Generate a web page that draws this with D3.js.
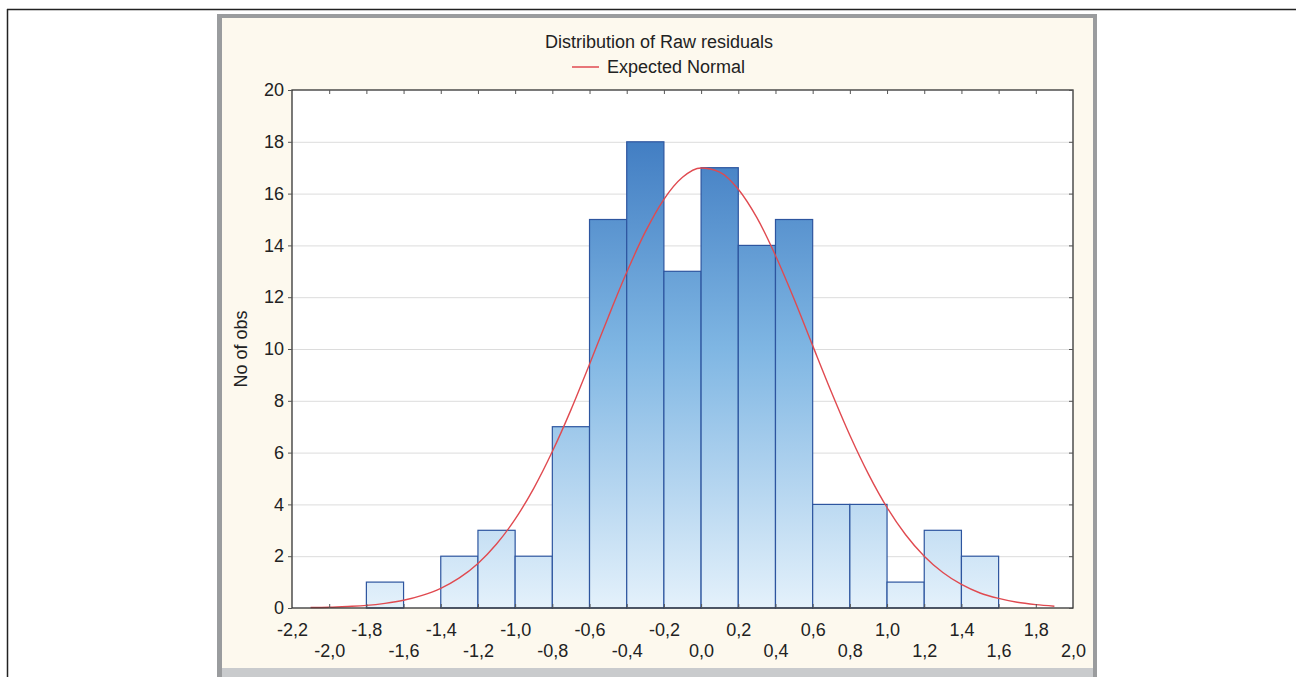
<!DOCTYPE html>
<html><head><meta charset="utf-8">
<script src="https://cdn.jsdelivr.net/npm/d3@7"></script>
<style>body{margin:0;background:#fff;}svg{display:block;font-family:"Liberation Sans",Arial,sans-serif;}</style>
</head><body>
<svg id="c" width="1296" height="677"></svg>
<script>
const binStarts = [-1.8,-1.6,-1.4,-1.2,-1.0,-0.8,-0.6,-0.4,-0.2,0.0,0.2,0.4,0.6,0.8,1.0,1.2,1.4];
const counts    = [1,0,2,3,2,7,15,18,13,17,14,15,4,4,1,3,2];
const binWidth = 0.2;
const curveX = [-2.1,-2.0,-1.9,-1.8,-1.7,-1.6,-1.5,-1.4,-1.3,-1.2,-1.1,-1.0,-0.9,-0.8,-0.7,-0.6,-0.5,-0.4,-0.3,-0.2,-0.1,0.0,0.1,0.2,0.3,0.4,0.5,0.6,0.7,0.8,0.9,1.0,1.1,1.2,1.3,1.4,1.5,1.6,1.7,1.8,1.9];
const curveY = [0.02,0.03,0.06,0.10,0.18,0.30,0.49,0.76,1.16,1.72,2.47,3.43,4.62,6.04,7.65,9.41,11.22,12.96,14.52,15.78,16.63,16.99,16.83,16.17,15.07,13.61,11.93,10.13,8.35,6.67,5.17,3.88,2.83,2.00,1.37,0.91,0.58,0.37,0.22,0.13,0.07];
const xTicks = [-2.2,-2.0,-1.8,-1.6,-1.4,-1.2,-1.0,-0.8,-0.6,-0.4,-0.2,0.0,0.2,0.4,0.6,0.8,1.0,1.2,1.4,1.6,1.8,2.0];
const yTicks = [0,2,4,6,8,10,12,14,16,18,20];

const svg = d3.select("#c");
// outer frame
svg.append("line").attr("x1",7).attr("x2",1296).attr("y1",9.5).attr("y2",9.5).attr("stroke","#222").attr("stroke-width",1.5);
svg.append("line").attr("x1",7.5).attr("x2",7.5).attr("y1",9).attr("y2",677).attr("stroke","#222").attr("stroke-width",1.5);
// panel
svg.append("rect").attr("x",217).attr("y",14).attr("width",880).attr("height",670).attr("fill","#9a9c9e");
svg.append("rect").attr("x",222).attr("y",18).attr("width",871).attr("height",650).attr("fill","#fdf9ee");
svg.append("rect").attr("x",222).attr("y",668).attr("width",871).attr("height",9).attr("fill","#c9cbcd");

const L=292,R=1073,T=90,B=608;
const x = d3.scaleLinear().domain([-2.2,2.0]).range([L,R]);
const y = d3.scaleLinear().domain([0,20]).range([B,T]);

const defs = svg.append("defs");
const g = defs.append("linearGradient").attr("id","bg").attr("gradientUnits","userSpaceOnUse")
  .attr("x1",0).attr("x2",0).attr("y1",y(0)).attr("y2",y(20));
g.append("stop").attr("offset","0").attr("stop-color","#e4f1fb");
g.append("stop").attr("offset","0.5").attr("stop-color","#7fb6e3");
g.append("stop").attr("offset","1").attr("stop-color","#3370bb");

svg.append("rect").attr("x",L).attr("y",T).attr("width",R-L).attr("height",B-T).attr("fill","#fff");
// grid
svg.append("g").selectAll("line").data(yTicks.filter(d=>d>0&&d<20)).join("line")
  .attr("x1",L).attr("x2",R).attr("y1",d=>y(d)+0.5).attr("y2",d=>y(d)+0.5).attr("stroke","#dcdcdc");

// bars
svg.append("g").selectAll("rect").data(binStarts.map((s,i)=>({s,c:counts[i]})).filter(d=>d.c>0)).join("rect")
  .attr("x",d=>x(d.s)).attr("width",d=>x(d.s+binWidth)-x(d.s))
  .attr("y",d=>y(d.c)).attr("height",d=>y(0)-y(d.c))
  .attr("fill","url(#bg)").attr("stroke","#2d559f").attr("stroke-width",1.2);

// curve
const line = d3.line().x((d,i)=>x(curveX[i])).y(d=>y(d)).curve(d3.curveMonotoneX);
svg.append("path").datum(curveY).attr("d",line).attr("fill","none").attr("stroke","#e04a50").attr("stroke-width",1.4);

// frame
svg.append("rect").attr("x",L).attr("y",T).attr("width",R-L).attr("height",B-T).attr("fill","none").attr("stroke","#333").attr("stroke-width",1.3);

// axes
const yAx = svg.append("g").attr("transform",`translate(${L},0)`).call(d3.axisLeft(y).tickValues(yTicks).tickSize(4).tickFormat(d=>d));
yAx.select(".domain").remove();
yAx.selectAll("text").style("font-size","18px").attr("fill","#222").style("font-family","Liberation Sans, Arial, sans-serif").attr("x",-8);
yAx.selectAll("line").attr("stroke","#555");
const yAxR = svg.append("g").attr("transform",`translate(${R},0)`).call(d3.axisLeft(y).tickValues(yTicks).tickSize(4).tickFormat(""));
yAxR.select(".domain").remove(); yAxR.selectAll("line").attr("stroke","#555");

const fmt = d => d3.format(".1f")(d).replace(".",",").replace("−","-");
const xAx = svg.append("g").attr("transform",`translate(0,${B})`).call(d3.axisBottom(x).tickValues(xTicks).tickSize(0).tickFormat(fmt));
xAx.select(".domain").remove();
xAx.selectAll("text").style("font-size","18px").attr("fill","#222").style("font-family","Liberation Sans, Arial, sans-serif")
  .attr("dy",null).attr("y",(d,i)=> i%2===0 ? 28 : 49);
const xTop = svg.append("g").attr("transform",`translate(0,${T})`).call(d3.axisBottom(x).tickValues(xTicks.filter(d=>d>-2.2&&d<2.0)).tickSize(4).tickFormat(""));
xTop.select(".domain").remove(); xTop.selectAll("line").attr("stroke","#555");
const xBot = svg.append("g").attr("transform",`translate(0,${B})`).call(d3.axisTop(x).tickValues(xTicks.filter(d=>d>-2.2&&d<2.0)).tickSize(4).tickFormat(""));
xBot.select(".domain").remove(); xBot.selectAll("line").attr("stroke","#555");

// titles
svg.append("text").attr("x",659).attr("y",48).attr("text-anchor","middle").attr("font-size",18).attr("fill","#222").text("Distribution of Raw residuals");
svg.append("line").attr("x1",572).attr("x2",599).attr("y1",67).attr("y2",67).attr("stroke","#e04a50").attr("stroke-width",1.5);
svg.append("text").attr("x",607).attr("y",73).attr("font-size",18).attr("fill","#222").text("Expected Normal");
svg.append("text").attr("transform","translate(247,349) rotate(-90)").attr("text-anchor","middle").attr("font-size",18).attr("fill","#222").text("No of obs");
</script>
</body></html>
